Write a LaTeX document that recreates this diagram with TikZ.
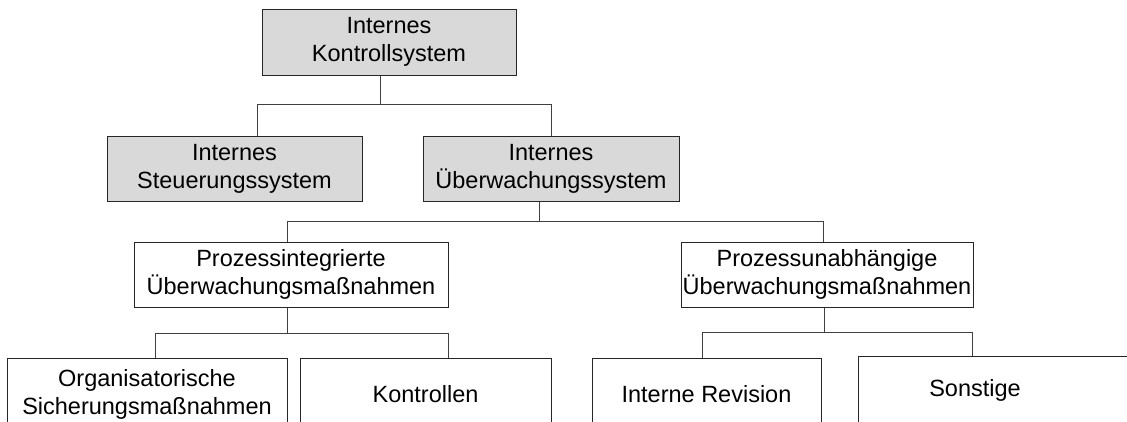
\documentclass[tikz,border=0pt]{standalone}
\usepackage{fontspec}
\setmainfont{Liberation Sans}
\newcommand{\lab}{\fontsize{23.5}{28}\selectfont}
\tikzset{
  kasten/.style={draw=black!85, line width=1pt, inner sep=0pt, align=center, font=\lab},
  grau/.style={kasten, fill=black!15},
  weiss/.style={kasten, fill=white},
  linie/.style={draw=black!75, line width=1pt},
}
\begin{document}
\begin{tikzpicture}[x=1pt,y=-1pt]
\useasboundingbox (0,0) rectangle (1127,421);
\clip (0,0) rectangle (1127,421);
% Ebene 0 und 1
\node[grau, minimum width=254, minimum height=66] (iks) at (389,42) {Internes\\Kontrollsystem};
\node[grau, minimum width=255, minimum height=65] (ist) at (234.5,168.5) {Internes\\Steuerungssystem};
\node[grau, minimum width=256, minimum height=65] (iues) at (551,168.5) {Internes\\Überwachungssystem};
% Ebene 2
\node[weiss, minimum width=314, minimum height=65] (pim) at (291,274.5) {Prozessintegrierte\\Überwachungsmaßnahmen};
\node[weiss, minimum width=292, minimum height=65] (pum) at (827,274.5) {Prozessunabhängige\\Überwachungsmaßnahmen};
% Ebene 3 (unten abgeschnitten)
\node[weiss, minimum width=280, minimum height=72] (osm) at (147,394) {Organisatorische\\Sicherungsmaßnahmen};
\node[weiss, minimum width=251, minimum height=72] (kon) at (425.5,394) {Kontrollen};
\node[weiss, minimum width=229, minimum height=72] (ir) at (706.5,394) {Interne Revision};
\node[weiss, minimum width=282, minimum height=68,
      label={[font=\lab, xshift=-24]center:Sonstige}] (son) at (999,390) {};
% Verbindungen
\coordinate (a0) at (380,104); \coordinate (a1) at (257,104); \coordinate (a2) at (551,104);
\coordinate (b0) at (539,221); \coordinate (b1) at (287,221); \coordinate (b2) at (823,221);
\coordinate (c0) at (287,333); \coordinate (c1) at (155,333); \coordinate (c2) at (448,333);
\coordinate (d0) at (824,332); \coordinate (d1) at (702,332); \coordinate (d2) at (972,332);
\draw[linie] (a0 |- iks.south) -- (a0);
\draw[linie] (b0 |- iues.south) -- (b0);
\draw[linie] (c0 |- pim.south) -- (c0);
\draw[linie] (d0 |- pum.south) -- (d0);
\foreach \l/\r in {a1/a2,b1/b2,c1/c2,d1/d2}{\draw[linie] (\l) -- (\r);}
\foreach \c/\n in {a1/ist,a2/iues,b1/pim,b2/pum,c1/osm,c2/kon,d1/ir,d2/son}{\draw[linie] (\c) -- (\c |- \n.north);}
\end{tikzpicture}
\end{document}
